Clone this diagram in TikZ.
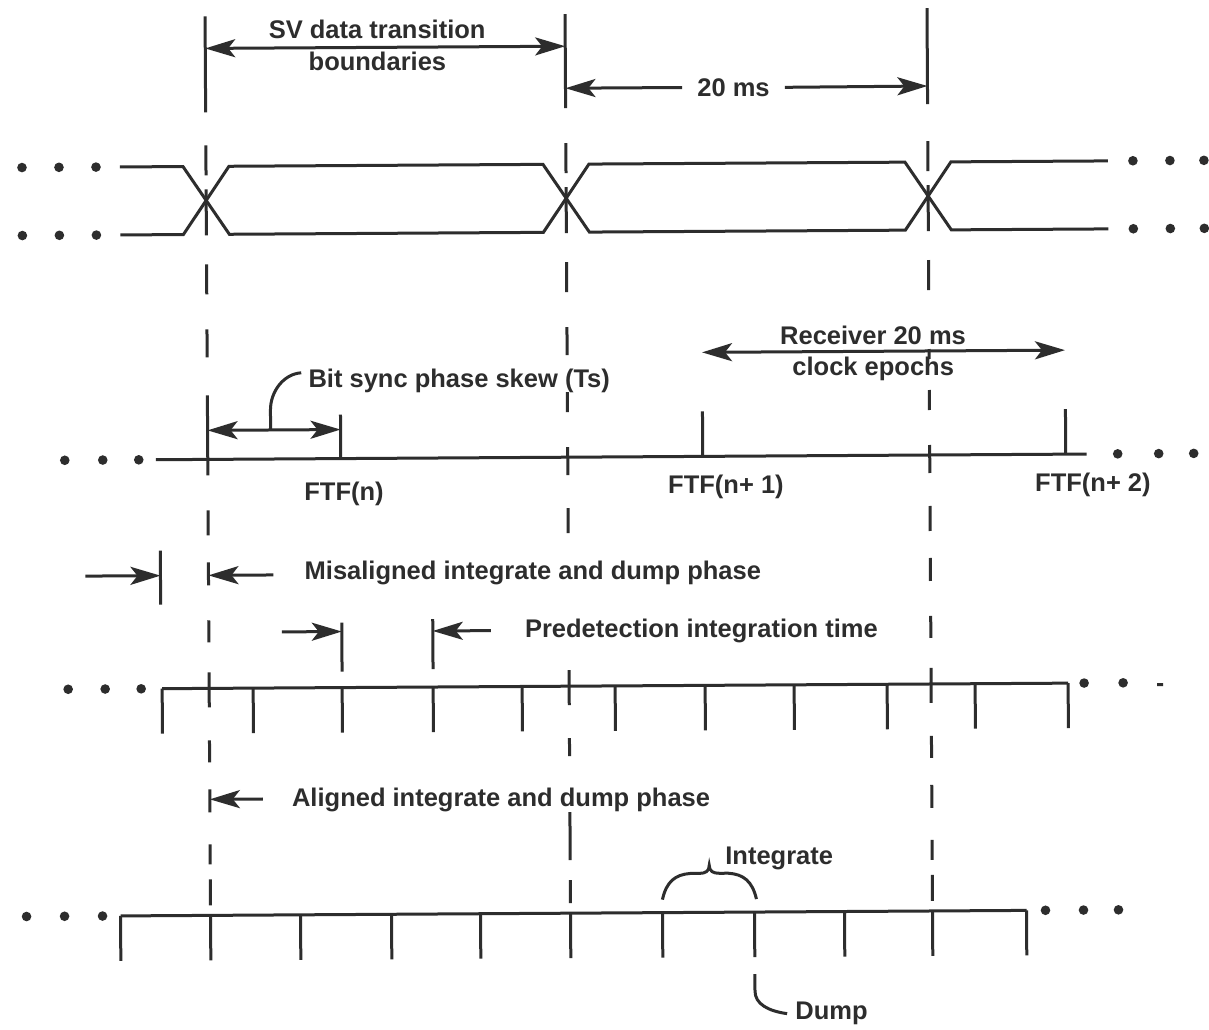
\documentclass[tikz,border=0pt]{standalone}
\usepackage{fontspec}
\setmainfont{Liberation Sans}
\usetikzlibrary{arrows.meta}
\definecolor{ink}{RGB}{45,45,45}
\begin{document}
\begin{tikzpicture}[x=1pt,y=-1pt,
  ln/.style={line width=3pt, draw=ink},
  >={Stealth[length=30pt,width=18pt,inset=7pt]},
  lbl/.style={inner sep=0pt, text=ink, anchor=base, font=\fontsize{25.5}{34}\selectfont\bfseries},
  lblw/.style={lbl, anchor=base west}]
\fill[white] (0,0) rectangle (1209,1029);
\useasboundingbox (0,0) rectangle (1209,1029);
\begin{scope}[rotate around={0.35:(600,500)}]
% top solid boundary lines
\draw[ln] (208,14) -- (208,110);
\draw[ln] (568,14) -- (568,108);
\draw[ln] (930,10) -- (930,106);
% dashed continuation: left and right lines
\foreach \ya/\yb in {143/173,187/233,262/292,508/533,560/583,618/640,670/705,738/760,787/810,842/862,877/903}{
  \draw[ln] (208,\ya) -- (208,\yb);
  \draw[ln] (930,\ya) -- (930,\yb);
}
\draw[ln] (208,327) -- (208,355);
\draw[ln] (930,351) -- (930,361);
\draw[ln] (930,392) -- (930,412);
\draw[ln] (930,447) -- (930,475);
\draw[ln] (208,393) -- (208,473);
% dashed continuation: middle line (interrupted at the text rows)
\foreach \ya/\yb in {143/173,187/233,262/292,327/355,392/412,447/475,508/533,670/705,738/756,812/860,880/903}{
  \draw[ln] (568,\ya) -- (568,\yb);
}
% labels top
\node[lbl] (sv1) at (380,37) {SV data transition};
\node[lbl] (sv2) at (380,69) {boundaries};
\coordinate (svL) at (208,46);
\coordinate (svR) at (568,46);
\draw[ln,<->] (svL) -- (svR);
\node[lbl] (ms20) at (736,97) {20 ms};
\coordinate (msL) at (568,88);
\coordinate (msR) at (930,88);
\draw[ln,->] ([xshift=-15pt]ms20.west) -- (msL);
\draw[ln,->] ([xshift=15pt]ms20.east) -- (msR);
% waveform
\draw[ln] (122,164) -- (185,164) -- (231,232) -- (545,232) -- (591,164) -- (907,164) -- (953,232) -- (1110,232);
\draw[ln] (122,232) -- (185,232) -- (231,164) -- (545,164) -- (591,232) -- (907,232) -- (953,164) -- (1110,164);
\foreach \x in {24,61,98,1135,1172,1206}{
  \fill[ink] (\x,164) circle[radius=4.8pt];
  \fill[ink] (\x,232) circle[radius=4.8pt];
}
% FTF axis
\draw[ln] (156,457) -- (1087,457);
\foreach \x in {65,103,139,1118,1159,1194}{\fill[ink] (\x,457) circle[radius=4.8pt];}
\draw[ln] (341,413) -- (341,457);
\draw[ln] (703,412) -- (703,457);
\draw[ln] (1066,412) -- (1066,457);
\coordinate (bsL) at (208,428);
\coordinate (bsR) at (341,428);
\draw[ln,<->] (bsL) -- (bsR);
\node[lblw] (bss) at (309,386) {Bit sync phase skew (Ts)};
\coordinate (bsc) at (302,371);
\draw[ln] (bsc) .. controls (284,372) and (271,390) .. (271,408) -- (271,428);
\node[lbl] (rc1) at (874,346) {Receiver 20 ms};
\node[lbl] (rc2) at (874,377) {clock epochs};
\coordinate (rcL) at (703,353);
\coordinate (rcR) at (1066,353);
\draw[ln,<->] (rcL) -- (rcR);
\node[lbl] (f1) at (344,499) {FTF(n)};
\node[lbl] (f2) at (726,494) {FTF(n+ 1)};
\node[lbl] (f3) at (1093,494) {FTF(n+ 2)};
% misaligned integrate and dump
\node[lblw] (mis) at (304,578) {Misaligned integrate and dump phase};
\coordinate (ma1) at (85,573);
\coordinate (ma2) at (160,573);
\coordinate (ma3) at (273,573);
\coordinate (ma4) at (208,573);
\draw[ln,->] (ma1) -- (ma2);
\draw[ln] (160,548) -- (160,602);
\draw[ln,->] (ma3) -- (ma4);
\node[lblw] (pre) at (524,637) {Predetection integration time};
\coordinate (pa1) at (281,630);
\coordinate (pa2) at (341,630);
\coordinate (pa3) at (490,630);
\coordinate (pa4) at (432,630);
\draw[ln,->] (pa1) -- (pa2);
\draw[ln] (341,621) -- (341,670);
\draw[ln,->] (pa3) -- (pa4);
\draw[ln] (432,618) -- (432,668);
\draw[ln] (161,686) -- (1067,686);
\foreach \x in {161,252,341,432,521,614,704,793,886,974,1067}{\draw[ln] (\x,686) -- (\x,731);}
\foreach \x in {67,104,140,1083,1122}{\fill[ink] (\x,686) circle[radius=4.8pt];}
\draw[ln] (1156,688) -- (1162,688);
% aligned
\node[lblw] (ali) at (290,805) {Aligned integrate and dump phase};
\coordinate (al1) at (261,797);
\coordinate (al2) at (208,797);
\draw[ln,->] (al1) -- (al2);
\draw[ln] (118,913) -- (1024,913);
\foreach \x in {118,208,298,389,478,568,660,752,842,930,1024}{\draw[ln] (\x,913) -- (\x,958);}
\foreach \x in {24,62,100,1043,1081,1116}{\fill[ink] (\x,913) circle[radius=4.8pt];}
% integrate brace
\draw[ln] (660,900) .. controls (664,882) and (673,875) .. (688,874) -- (697,874) .. controls (703,874) and (707,872) .. (707,866)
          .. controls (707,872) and (711,874) .. (717,874) -- (726,874) .. controls (741,875) and (750,882) .. (754,900);
\node[lbl] (intg) at (777,866) {Integrate};
% dump leader
\node[lblw] (dump) at (792,1021) {Dump};
\draw[ln] (752,975) -- (752,992) .. controls (752,1005) and (765,1012) .. ([xshift=-8pt]dump.west);
\end{scope}
\end{tikzpicture}
\end{document}
